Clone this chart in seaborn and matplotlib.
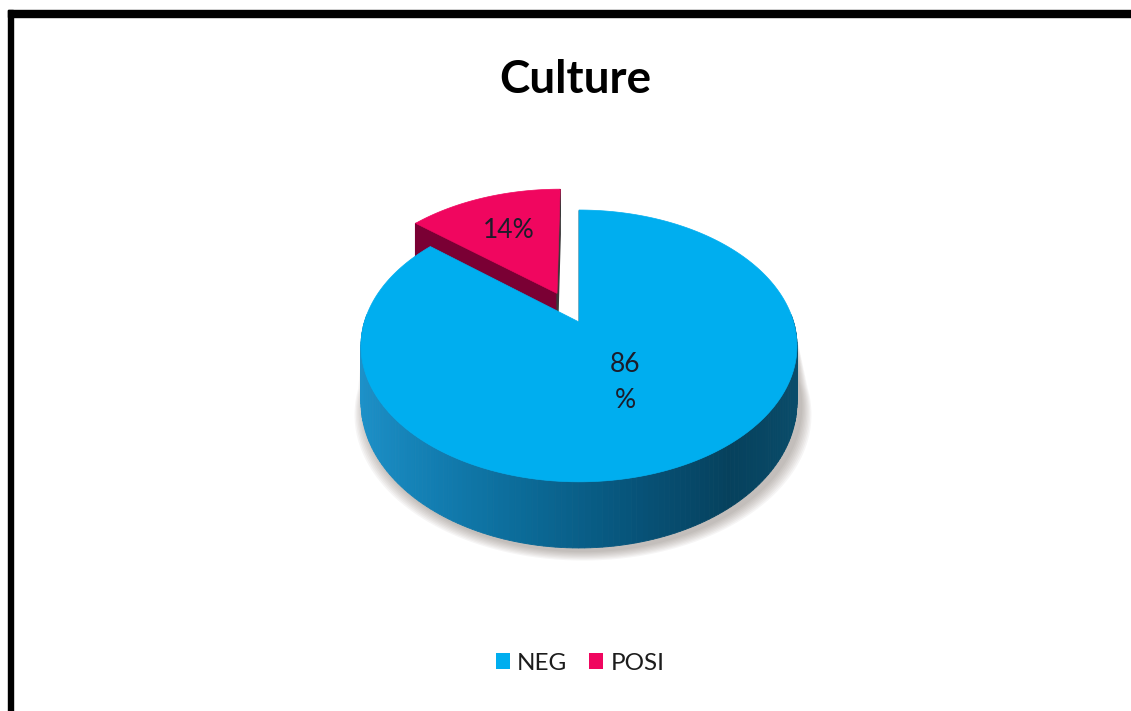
import numpy as np
import matplotlib
matplotlib.use("Agg")
import matplotlib.pyplot as plt
from matplotlib.patches import Polygon, Patch, Rectangle
import seaborn as sns

# ---- data -------------------------------------------------------------
categories = ["NEG", "POSI"]
values = [86, 14]
title = "Culture"

# ---- style ------------------------------------------------------------
sns.set_theme(style="white")
plt.rcParams["font.family"] = ["Lato", "DejaVu Sans"]

top_colors = ["#00AEEF", "#F0065F"]
face_colors = ["#0A6A96", "#7A0034"]          # radial cut faces
explode = [0.0, 0.25]
label_radius = [0.47, 0.62]

# side wall shading of each slice: colour stops from left (180 deg) to right (360 deg)
side_stops = [
    ["#1E93CB", "#137FB3", "#0B6A97", "#07547A", "#06415D", "#0A4E6C"],
    ["#8A003B", "#7F0036", "#780032", "#700030", "#68002C", "#68002C"],
]

# pseudo-perspective projection of the pie disc (pixel space)
CX, CY = 579.0, 322.0
SX, SY = 214.6, 131.7
P = 0.176
DEPTH = 54.5


def proj(X, Y, Z=0.0):
    X = np.asarray(X, dtype=float)
    Y = np.asarray(Y, dtype=float)
    w = 1.0 / (1.0 + P * Y)
    return CX + SX * X * w, CY - SY * Y * w + DEPTH * Z * w


def shade(stops, theta):
    c = np.cos(np.radians(theta))
    t = 1 - np.clip((1 - c) / 2.0, 0, 1)   # 0 at left, 1 at right
    pos = t * (len(stops) - 1)
    i = int(np.clip(np.floor(pos), 0, len(stops) - 2))
    f = pos - i
    a = np.array(matplotlib.colors.to_rgb(stops[i]))
    b = np.array(matplotlib.colors.to_rgb(stops[i + 1]))
    return tuple(a + (b - a) * f)


fig = plt.figure(figsize=(11.31, 7.11), dpi=100)
ax = fig.add_axes([0, 0, 1, 1])
ax.set_xlim(0, 1131)
ax.set_ylim(711, 0)
ax.axis("off")

# chart-area frame (top and left edges)
ax.add_patch(Rectangle((8, 10), 1131, 7, color="black", zorder=0))
ax.add_patch(Rectangle((8, 10), 5, 711, color="black", zorder=0))

# slice angles: start at 12 o'clock, going clockwise
fracs = np.array(values, dtype=float) / np.sum(values)
starts = 90 - 360 * np.concatenate([[0], np.cumsum(fracs)[:-1]])
ends = starts - 360 * fracs

# soft shadow along the front of the base (wall band, shifted and widened)
front = np.linspace(180, 360, 181)
fx_top, fy_top = proj(np.cos(np.radians(front)), np.sin(np.radians(front)), 0.0)
fx_bot, fy_bot = proj(np.cos(np.radians(front)), np.sin(np.radians(front)), 1.0)
for k in range(8, 0, -1):
    scale = 1 + k * 0.006
    bx = CX + (fx_bot - CX) * scale + 4
    by = fy_bot + k * 1.2 + 3
    px = np.r_[fx_top, bx[::-1]]
    py = np.r_[fy_top, by[::-1]]
    ax.add_patch(Polygon(np.c_[px, py], closed=True, color="#5a4a40",
                         alpha=0.05, lw=0, zorder=1))

# draw back slice first so the front slice overlaps it
order = np.argsort([np.sin(np.radians((s + e) / 2)) for s, e in zip(starts, ends)])[::-1]
z = 2
for i in order:
    a0, a1 = starts[i], ends[i]
    mid = np.radians((a0 + a1) / 2)
    ox, oy = explode[i] * np.cos(mid), explode[i] * np.sin(mid)
    th = np.linspace(a0, a1, 240)
    rx = ox + np.cos(np.radians(th))
    ry = oy + np.sin(np.radians(th))

    # outer wall, front-facing segments only
    segs = []
    for j in range(len(th) - 1):
        tm = (th[j] + th[j + 1]) / 2
        if np.sin(np.radians(tm)) > 0.05:
            continue
        xs = [rx[j], rx[j + 1], rx[j + 1], rx[j]]
        ys = [ry[j], ry[j + 1], ry[j + 1], ry[j]]
        px, py = proj(xs, ys, np.array([0, 0, 1, 1]))
        segs.append((np.sin(np.radians(tm)), px, py, shade(side_stops[i], tm)))
    segs.sort(key=lambda s: -s[0])
    for _, px, py, col in segs:
        ax.add_patch(Polygon(np.c_[px, py], closed=True, facecolor=col,
                             edgecolor=col, lw=0.6, zorder=z))
    z += 1

    # radial cut faces facing the viewer
    for ang, sgn in ((a0, 1), (a1, -1)):
        normal = np.radians(ang + 90 * sgn)
        if np.sin(normal) > 0.01:
            continue
        ex, ey = ox + np.cos(np.radians(ang)), oy + np.sin(np.radians(ang))
        px, py = proj([ox, ex, ex, ox], [oy, ey, ey, oy], np.array([0, 0, 1, 1]))
        edge = "#3a3a3a" if abs(np.cos(normal)) > 0.99 else face_colors[i]
        ax.add_patch(Polygon(np.c_[px, py], closed=True, facecolor=face_colors[i],
                             edgecolor=edge, lw=1.0, zorder=z))
    z += 1

    # top face
    tx, ty = proj(np.r_[ox, rx], np.r_[oy, ry])
    ax.add_patch(Polygon(np.c_[tx, ty], closed=True, facecolor=top_colors[i],
                         edgecolor=top_colors[i], lw=0.5, zorder=z))
    z += 1

# data labels on the top faces
for i in range(len(values)):
    mid = np.radians((starts[i] + ends[i]) / 2)
    ox, oy = explode[i] * np.cos(mid), explode[i] * np.sin(mid)
    lx, ly = proj(ox + label_radius[i] * np.cos(mid), oy + label_radius[i] * np.sin(mid))
    txt = f"{values[i]}\n%" if i == 0 else f"{values[i]}%"
    ax.text(float(lx), float(ly), txt, ha="center", va="center", fontsize=19,
            color="#1c1c2a", linespacing=1.55, zorder=50)

ax.text(575, 80, title, ha="center", va="center", fontsize=33, fontweight="bold",
        color="black", zorder=50)

handles = [Patch(facecolor=c, edgecolor="none") for c in top_colors]
fig.legend(handles, categories, loc="center", bbox_to_anchor=(580 / 1131, 1 - 663 / 711),
           ncol=2, frameon=False, fontsize=17.5, handlelength=0.58, handleheight=0.62,
           handletextpad=0.3, columnspacing=0.9, labelcolor="#1c1c1c")

fig.savefig("out.png", dpi=100, facecolor="white")
